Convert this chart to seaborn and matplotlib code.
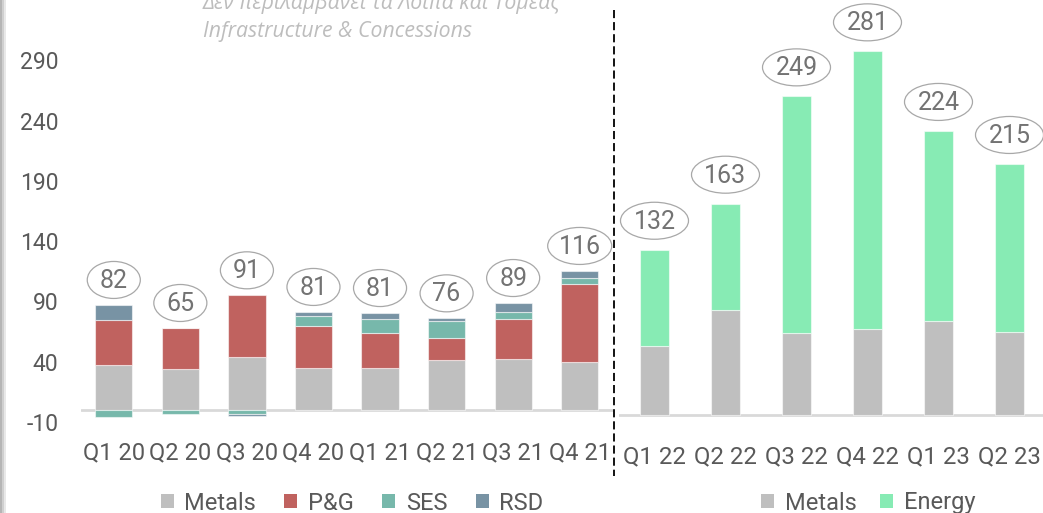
import numpy as np
import pandas as pd
import matplotlib
matplotlib.use("Agg")
import matplotlib.pyplot as plt
import seaborn as sns
from matplotlib.patches import Ellipse, Rectangle, Patch
from matplotlib.lines import Line2D

# ---------------- data ----------------
left_quarters = ["Q1 20", "Q2 20", "Q3 20", "Q4 20", "Q1 21", "Q2 21", "Q3 21", "Q4 21"]
left_metals = [37.3, 34.0, 43.7, 35.1, 34.8, 41.2, 42.3, 39.5]
left_pg = [37.1, 34.0, 51.4, 34.6, 29.0, 18.8, 33.4, 65.2]
left_ses = [-6.1, -3.6, -3.7, 8.0, 11.7, 13.8, 5.3, 4.5]
left_rsd = [12.7, 0.0, -1.0, 3.6, 4.9, 2.2, 7.7, 6.1]
left_totals = [82, 65, 91, 81, 81, 76, 89, 116]

right_quarters = ["Q1 22", "Q2 22", "Q3 22", "Q4 22", "Q1 23", "Q2 23"]
right_metals = [53.7, 81.6, 63.6, 66.4, 72.6, 64.2]
right_energy = [74.4, 82.2, 183.4, 215.5, 147.6, 130.4]
right_totals = [132, 163, 249, 281, 224, 215]

left_series_names = ["Metals", "P&G", "SES", "RSD"]
right_series_names = ["Metals", "Energy"]
y_ticks = [-10, 40, 90, 140, 190, 240, 290]
note_lines = ["Δεν περιλαμβάνει τα Λοιπά και Τομέας", "Infrastructure & Concessions"]

# ---------------- style ----------------
colors = {"Metals": "#bfbfbf", "P&G": "#c0625f", "SES": "#77b8ab",
          "RSD": "#7893a4", "Energy": "#87ebb4"}
TEXT = "#595959"
LABEL = "#737373"

sns.set_style("white")
plt.rcParams["font.family"] = ["Roboto", "DejaVu Sans"]

W, H = 1043, 513
fig = plt.figure(figsize=(W / 100, H / 100), dpi=100)

def fx(px):
    return px / W

def fy(py):
    return 1 - py / H

ax_l = fig.add_axes([fx(80.5), fy(430), fx(613 - 80.5), (430 - 40) / H])
ax_r = fig.add_axes([fx(619), fy(430), fx(1045 - 619), (430 - 40) / H])


def draw_stack(ax, cats, series, names, width):
    pos = np.zeros(len(cats))
    neg = np.zeros(len(cats))
    for vals, name in zip(series, names):
        v = np.asarray(vals, dtype=float)
        bottom = np.where(v >= 0, pos, neg)
        df = pd.DataFrame({"q": cats, "v": v})
        sns.barplot(data=df, x="q", y="v", order=cats, bottom=bottom,
                    color=colors[name], saturation=1, width=width,
                    errorbar=None, ax=ax, edgecolor=(1, 1, 1, 0.55),
                    linewidth=0.8, zorder=2)
        pos += np.where(v >= 0, v, 0)
        neg += np.where(v < 0, v, 0)
    return pos


def add_labels(ax, tops, labels, dy, h, w2, w3):
    for i, (t, lab) in enumerate(zip(tops, labels)):
        yc = t + dy
        txt = str(lab)
        w = w2 if len(txt) <= 2 else w3
        ax.add_patch(Ellipse((i, yc), w, h, fc="none", ec="#a8a8a8",
                             lw=0.9, clip_on=False, zorder=4))
        ax.text(i, yc - h * 0.03, txt, ha="center", va="center", fontsize=18,
                color=LABEL, clip_on=False, zorder=5)


tops_l = draw_stack(ax_l, left_quarters, [left_metals, left_pg, left_ses, left_rsd],
                    left_series_names, 0.56)
tops_r = draw_stack(ax_r, right_quarters, [right_metals, right_energy],
                    right_series_names, 0.41)

# axes limits
ax_l.set_xlim(-0.5, 7.5)
ax_l.set_ylim((410 - 430) / 1.206, (410 - 40) / 1.206)
ax_r.set_xlim(-0.5, 5.5)
ax_r.set_ylim((415 - 430) / 1.29, (415 - 40) / 1.29)

add_labels(ax_l, tops_l, left_totals, 25 / 1.206, 37 / 1.206, 53 / 66.5, 64 / 66.5)
add_labels(ax_r, tops_r, right_totals, 29 / 1.29, 37 / 1.29, 68 / 71, 68 / 71)

for ax in (ax_l, ax_r):
    ax.axhline(0, color="#d9d9d9", lw=2, zorder=1)
    for s in ax.spines.values():
        s.set_visible(False)
    ax.set_xlabel("")
    ax.set_ylabel("")
    ax.tick_params(axis="both", length=0, labelcolor=TEXT)
    ax.set_facecolor("none")

ax_l.set_yticks(y_ticks)
ax_l.set_yticklabels([str(t) for t in y_ticks], fontsize=16.5)
ax_l.tick_params(axis="y", pad=16)
ax_l.tick_params(axis="x", labelsize=17, pad=8)
ax_r.set_yticks([])
ax_r.tick_params(axis="x", labelsize=17.3, pad=11)

# legends
h_l = [Patch(facecolor=colors[n], edgecolor="none") for n in left_series_names]
h_r = [Patch(facecolor=colors[n], edgecolor="none") for n in right_series_names]
leg_kw = dict(loc="center", ncol=4, frameon=False, fontsize=17,
              handlelength=0.55, handleheight=0.55, handletextpad=0.45,
              columnspacing=1.2, labelcolor=TEXT, borderpad=0, borderaxespad=0)
fig.legend(h_l, left_series_names, bbox_to_anchor=(fx(352), fy(503)), **leg_kw)
leg_kw["ncol"] = 2
leg_kw["columnspacing"] = 1.0
fig.legend(h_r, right_series_names, bbox_to_anchor=(fx(868), fy(503)), **leg_kw)

# note text
fig.text(fx(203), fy(3), note_lines[0], fontsize=15.3, style="italic",
         family=["Open Sans", "DejaVu Sans"], color="#bdbdbd", va="center", ha="left")
fig.text(fx(203), fy(32), note_lines[1], fontsize=15.3, style="italic",
         family=["Open Sans", "DejaVu Sans"], color="#bdbdbd", va="center", ha="left")

# dashed separator
sep = Line2D([fx(614), fx(614)], [fy(10), fy(476)], transform=fig.transFigure,
             color="black", lw=1.3, dashes=(4.5, 2.2))
fig.add_artist(sep)

# left shadow edge
for x0, c in [(0, "#b5b5b5"), (2, "#cfcfcf"), (4, "#e8e8e8")]:
    fig.add_artist(Rectangle((fx(x0), 0), fx(2), 1, transform=fig.transFigure,
                             color=c, lw=0))

fig.savefig("out.png", dpi=100)
